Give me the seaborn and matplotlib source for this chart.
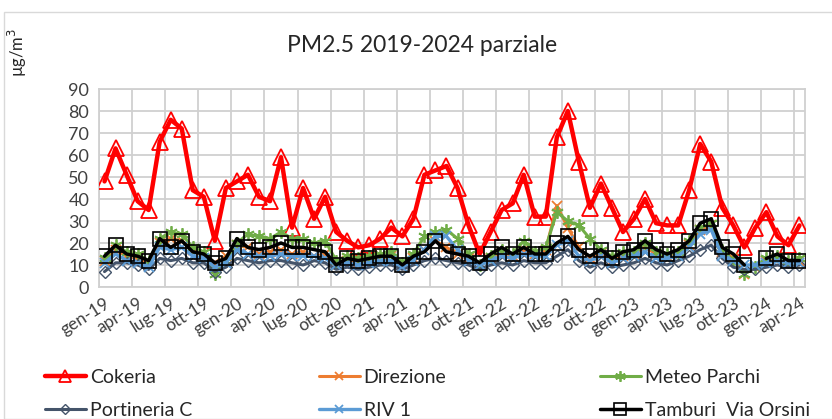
import numpy as np
import pandas as pd
import matplotlib
matplotlib.use("Agg")
import matplotlib.pyplot as plt
import seaborn as sns
from matplotlib.patches import Rectangle
from matplotlib.lines import Line2D

nan = np.nan

# 64 monthly points: gen-19 ... apr-24
tick_labels = ["gen-19", "apr-19", "lug-19", "ott-19", "gen-20", "apr-20", "lug-20", "ott-20",
               "gen-21", "apr-21", "lug-21", "ott-21", "gen-22", "apr-22", "lug-22", "ott-22",
               "gen-23", "apr-23", "lug-23", "ott-23", "gen-24", "apr-24"]

cokeria = [48, 63, 51, 39, 35, 66, 76, 72, 44, 41, 21, 45,
           48, 51, 41, 39, 59, 27, 45, 31, 41, 25, 21, 18,
           19, 22, 27, 23, 31, 51, 53, 55, 45, 28, 15, 25,
           35, 38, 51, 32, 32, 68, 80, 57, 36, 47, 36, 25,
           31, 40, 29, 28, 28, 44, 65, 57, 36, 28, 18, 27,
           34, 23, 19, 28]
direzione = [12, 17, 14, 13, 11, 20, 22, 21, 17, 15, 11, 14,
             19, 18, 15, 16, 17, 15, 16, 14, 15, 10, 12, 11,
             12, 13, 14, 9, 13, 17, 21, 18, 15, 13, 10, 13,
             16, 14, 17, 15, 17, 37, 27, 18, 13, 15, 12, 14,
             15, 18, 15, 14, 15, 19, 26, 28, 16, 13, 6, 9,
             12, 13, 11, 12]
meteo_parchi = [13, 19, 16, 15, 12, 22, 25, 24, 18, 16, 6, 12,
                20, 24, 23, 22, 25, 22, 22, 20, 21, 12, 14, 13,
                14, 15, 16, 11, 15, 23, 25, 26, 22, 15, 10, 14,
                17, 15, 21, 16, 18, 34, 30, 28, 22, 17, 14, 16,
                16, 20, 16, 15, 16, 21, 27, 29, 17, 12, 6, 9,
                13, 14, 12, 13]
portineria_c = [7, 11, 11, 10, 8, 13, 12, 13, 11, 11, 7, 9,
                13, 12, 11, 12, 12, 11, 10, 12, 11, 8, 9, 8,
                9, 10, 10, 8, 10, 12, 13, 12, 11, 10, 8, 10,
                11, 10, 12, 11, 11, 14, 17, 12, 9, 11, 9, 10,
                11, 13, 11, 10, 12, 14, 17, 19, 13, 9, 8, 8,
                9, 10, 9, 10]
riv_1 = [11, 15, 12, 11, 9, 18, 17, 18, 14, 13, 9, 11,
         17, 15, 14, 14, 15, 14, 14, 14, 13, 10, 11, 10,
         11, 12, 12, 9, 12, 17, 23, 23, 17, 12, 10, 12,
         14, 13, 15, 14, 14, 19, 21, 14, 12, 14, 11, 13,
         14, 16, 13, 13, 14, 18, 24, 26, 14, 12, 10, 10,
         11, 12, 11, 11]
tamburi = [14, 19, 15, 14, 12, 22, 18, 21, 16, 15, 11, 13,
           22, 18, 17, 18, 20, 18, 18, 17, 16, 10, 13, 12,
           13, 14, 14, 10, 14, 16, 21, 16, 15, 14, 11, 15,
           18, 15, 18, 15, 15, 20, 23, 17, 14, 17, 13, 16,
           17, 21, 17, 15, 17, 21, 29, 31, 18, 15, 10, nan,
           13, 15, 12, 12]

series = [
    ("Cokeria", cokeria, "#FF0000", "^", 11, 3.2, 1.3),
    ("Direzione", direzione, "#ED7D31", "x", 7, 2.2, 1.3),
    ("Meteo Parchi", meteo_parchi, "#70AD47", (6, 2, 0), 9, 2.2, 1.3),
    ("Portineria C", portineria_c, "#44546A", "D", 6, 2.2, 1.0),
    ("RIV 1", riv_1, "#5B9BD5", "x", 7, 2.4, 1.3),
    ("Tamburi  Via Orsini", tamburi, "#000000", "s", 10.5, 2.5, 1.2),
]

FONT = ["Lato", "DejaVu Sans"]
sns.set_style("white")
plt.rcParams["font.family"] = FONT

fig = plt.figure(figsize=(8.32, 4.19), dpi=100)
ax = fig.add_axes([99 / 832, 1 - 287 / 419, (805 - 99) / 832, (287 - 89) / 419])

x = np.arange(len(cokeria))
zorders = [3, 4, 5, 6, 7, 8]
for (name, vals, color, marker, ms, lw, mew), zo in zip(series, zorders):
    df = pd.DataFrame({"x": x, "y": vals})
    ok = df["y"].notna()
    grp = (~ok).cumsum()
    for _, seg in df[ok].groupby(grp[ok]):
        sns.lineplot(data=seg, x="x", y="y", ax=ax, color=color, linewidth=lw,
                     marker=marker, markersize=ms, markerfacecolor="none",
                     markeredgecolor=color, markeredgewidth=mew,
                     estimator=None, sort=False, legend=False, zorder=zo)

ax.set_xlim(-0.5, 63.5)
ax.set_ylim(0, 90)
ax.set_yticks(np.arange(0, 91, 10))
ax.set_xticks(np.arange(0, 64, 3))
ax.set_xticklabels(tick_labels, rotation=32, ha="right", va="top",
                   rotation_mode="anchor", fontsize=12.5, color="#404040")
ax.set_xticks(np.arange(-0.5, 64, 3), minor=True)
ax.tick_params(axis="x", which="major", length=0, pad=6)
ax.tick_params(axis="x", which="minor", length=6, color="#D0D0D0", width=1.2)
ax.tick_params(axis="y", length=0, pad=7, labelsize=13, labelcolor="#404040")
ax.set_xlabel("")
ax.set_ylabel("")
ax.grid(False)
ax.grid(True, axis="y", which="major", color="#D0D0D0", linewidth=1.3, zorder=0)
ax.grid(True, axis="x", which="minor", color="#D0D0D0", linewidth=1.3, zorder=0)
for side in ["top", "right", "bottom", "left"]:
    ax.spines[side].set_visible(True)
    ax.spines[side].set_color("#D0D0D0")
    ax.spines[side].set_linewidth(1.3)
ax.set_axisbelow(True)

fig.text(422 / 832, 1 - 45 / 419, "PM2.5 2019-2024 parziale", ha="center", va="center",
         fontsize=16.5, color="#262626")
fig.text(17 / 832, 1 - 52 / 419, "µg/m$^3$", rotation=90, ha="center", va="center",
         fontsize=12, color="#262626")

fig.patches.append(Rectangle((4 / 832, 0), 1.0, 1 - 12 / 419, transform=fig.transFigure,
                             fill=False, edgecolor="#D9D9D9", linewidth=1.0))

handles = []
for name, vals, color, marker, ms, lw, mew in series:
    handles.append(Line2D([], [], color=color, linewidth=lw, marker=marker,
                          markersize=ms * 0.85, markerfacecolor="none",
                          markeredgecolor=color, markeredgewidth=mew, label=name))

cols = [(handles[0], handles[3], 45), (handles[1], handles[4], 319), (handles[2], handles[5], 600)]
for h1, h2, xpx in cols:
    leg = fig.legend(handles=[h1, h2], loc="upper left",
                     bbox_to_anchor=(xpx / 832, 1 - 369 / 419), frameon=False,
                     fontsize=14, handlelength=2.1, handletextpad=0.2,
                     labelspacing=0.8, borderpad=0, borderaxespad=0)
    for t in leg.get_texts():
        t.set_color("#262626")

fig.savefig("out.png", dpi=100, facecolor="white")
